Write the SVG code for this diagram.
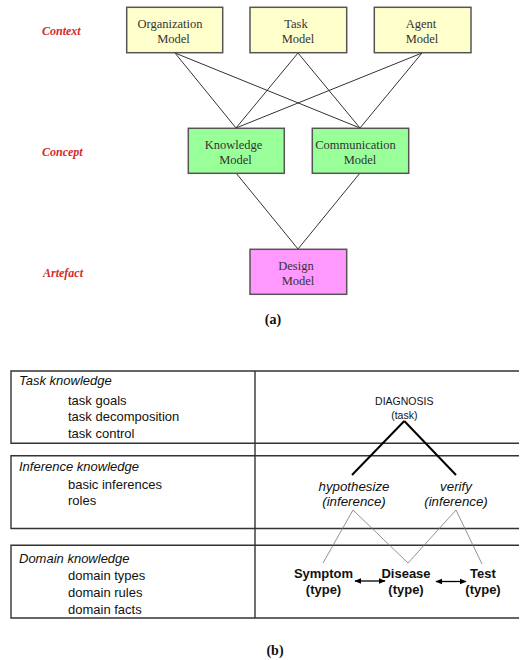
<svg xmlns="http://www.w3.org/2000/svg" width="520" height="660" viewBox="0 0 520 660">
<defs>
<style>
.box{stroke:#555;stroke-width:1.5}
.yel{fill:#ffffcc}.grn{fill:#99ff99}.pnk{fill:#ff99ff}
.mt{font-family:"Liberation Serif",serif;font-size:12.5px;fill:#333;text-anchor:middle}
.lvl{font-family:"Liberation Serif",serif;font-size:12px;font-weight:bold;font-style:italic;fill:#d42a2a}
.cap{font-family:"Liberation Serif",serif;font-size:14px;font-weight:bold;fill:#111;text-anchor:middle}
.con{stroke:#333;stroke-width:1;fill:none}
.tl{stroke:#333;stroke-width:1.4;fill:none}
.st{font-family:"Liberation Sans",sans-serif;font-size:13px;fill:#111}
.it{font-style:italic}
.sm{font-family:"Liberation Sans",sans-serif;font-size:10.5px;fill:#111;text-anchor:middle}
.inf{font-family:"Liberation Sans",sans-serif;font-size:13.3px;font-style:italic;fill:#111;text-anchor:middle}
.ty{font-family:"Liberation Sans",sans-serif;font-size:13px;font-weight:bold;fill:#111;text-anchor:middle}
.thick{stroke:#000;stroke-width:2;fill:none}
.thin{stroke:#777;stroke-width:0.8;fill:none}
.arr{stroke:#000;stroke-width:1.3;fill:none;marker-start:url(#ah);marker-end:url(#ah)}
</style>
<marker id="ah" viewBox="0 0 10 10" refX="9" refY="5" markerWidth="7" markerHeight="7" orient="auto-start-reverse" markerUnits="userSpaceOnUse">
<path d="M0,1 L10,5 L0,9 z" fill="#000"/>
</marker>
</defs>
<rect width="520" height="660" fill="#fff"/>

<g id="levels">
<text class="lvl" x="42" y="35">Context</text>
<text class="lvl" x="42" y="156">Concept</text>
<text class="lvl" x="43" y="277">Artefact</text>
</g>

<g id="connectors-a">
<line class="con" x1="175" y1="53" x2="236" y2="128"/>
<line class="con" x1="175" y1="53" x2="360" y2="128"/>
<line class="con" x1="298" y1="53" x2="236" y2="128"/>
<line class="con" x1="298" y1="53" x2="360" y2="128"/>
<line class="con" x1="422" y1="53" x2="236" y2="128"/>
<line class="con" x1="422" y1="53" x2="360" y2="128"/>
<line class="con" x1="236" y1="173" x2="298" y2="249"/>
<line class="con" x1="360" y1="173" x2="298" y2="249"/>
</g>

<g id="org">
<rect class="box yel" x="126.7" y="7.3" width="96" height="45.4"/>
<text class="mt" x="170" y="28">Organization</text>
<text class="mt" x="173.5" y="43">Model</text>
</g>
<g id="task">
<rect class="box yel" x="250" y="7.3" width="96.7" height="45.4"/>
<text class="mt" x="296" y="28">Task</text>
<text class="mt" x="298" y="43">Model</text>
</g>
<g id="agent">
<rect class="box yel" x="374.3" y="7.3" width="96.7" height="45.4"/>
<text class="mt" x="421" y="28">Agent</text>
<text class="mt" x="422" y="43">Model</text>
</g>
<g id="knowledge">
<rect class="box grn" x="188.3" y="128.3" width="96" height="45"/>
<text class="mt" x="233.5" y="148.5">Knowledge</text>
<text class="mt" x="235.5" y="163.5">Model</text>
</g>
<g id="communication">
<rect class="box grn" x="312.3" y="128.3" width="96.4" height="45"/>
<text class="mt" x="355.5" y="148.5">Communication</text>
<text class="mt" x="360" y="163.5">Model</text>
</g>
<g id="design">
<rect class="box pnk" x="250" y="249.3" width="96.7" height="45"/>
<text class="mt" x="296" y="269.5">Design</text>
<text class="mt" x="298" y="284.5">Model</text>
</g>
<text class="cap" x="273" y="324">(a)</text>

<g id="table">
<path class="tl" d="M519,371 H11 V443.3 H519"/>
<path class="tl" d="M519,455.7 H11 V528.5 H519"/>
<path class="tl" d="M519,545.3 H11 V618 H519"/>
<line class="tl" x1="255" y1="371" x2="255" y2="618"/>
</g>

<g id="task-knowledge">
<text class="st it" x="19" y="385">Task knowledge</text>
<text class="st" x="68" y="404.5">task goals</text>
<text class="st" x="68" y="421">task decomposition</text>
<text class="st" x="68" y="437.5">task control</text>
</g>
<g id="inference-knowledge">
<text class="st it" x="19" y="470.5">Inference knowledge</text>
<text class="st" x="68" y="488.5">basic inferences</text>
<text class="st" x="68" y="505">roles</text>
</g>
<g id="domain-knowledge">
<text class="st it" x="19" y="562.5">Domain knowledge</text>
<text class="st" x="68" y="580">domain types</text>
<text class="st" x="68" y="597">domain rules</text>
<text class="st" x="68" y="614">domain facts</text>
</g>

<g id="connectors-b">
<line class="thick" x1="404.3" y1="421" x2="352" y2="475"/>
<line class="thick" x1="404.3" y1="421" x2="456" y2="475"/>
<line class="thin" x1="353" y1="510" x2="323" y2="563"/>
<line class="thin" x1="353" y1="510" x2="408" y2="563"/>
<line class="thin" x1="456" y1="510" x2="408" y2="563"/>
<line class="thin" x1="456" y1="510" x2="482" y2="564"/>
<line class="arr" x1="355" y1="581" x2="385" y2="581"/>
<line class="arr" x1="436" y1="581.5" x2="466" y2="581.5"/>
</g>

<g id="diagnosis">
<text class="sm" x="404.3" y="405">DIAGNOSIS</text>
<text class="sm" x="404.3" y="418.5">(task)</text>
</g>
<g id="hypothesize">
<text class="inf" x="354" y="490.5">hypothesize</text>
<text class="inf" x="354" y="506">(inference)</text>
</g>
<g id="verify">
<text class="inf" x="456" y="490.5">verify</text>
<text class="inf" x="456" y="506">(inference)</text>
</g>
<g id="symptom">
<text class="ty" x="323.5" y="578">Symptom</text>
<text class="ty" x="323.5" y="594">(type)</text>
</g>
<g id="disease">
<text class="ty" x="406" y="578">Disease</text>
<text class="ty" x="406" y="594">(type)</text>
</g>
<g id="test">
<text class="ty" x="483" y="578">Test</text>
<text class="ty" x="483" y="594">(type)</text>
</g>
<text class="cap" x="275" y="655">(b)</text>
</svg>
